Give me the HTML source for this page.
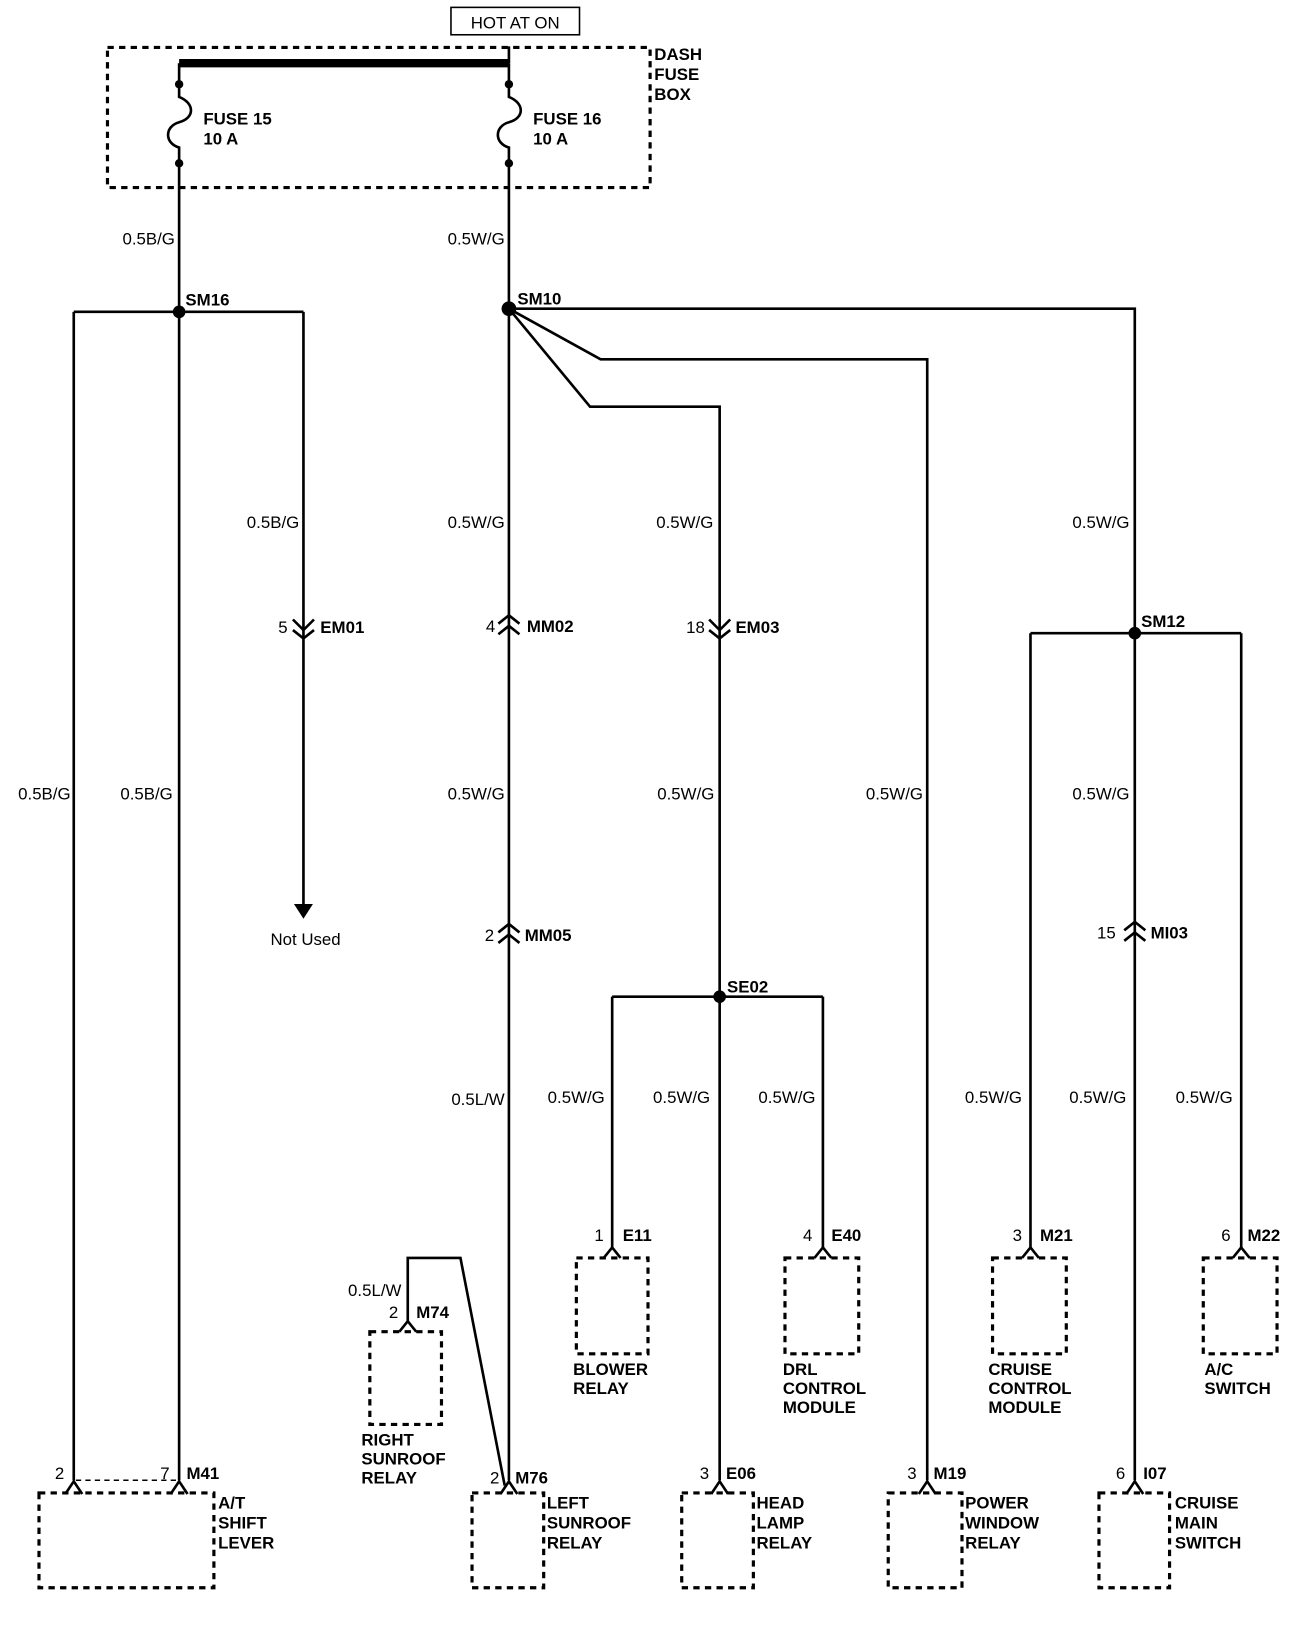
<!DOCTYPE html>
<html><head><meta charset="utf-8"><style>
html,body{margin:0;padding:0;background:#fff;}
svg{display:block;}
text{font-family:"Liberation Sans",Arial,sans-serif;fill:#000;}
.b{font-weight:bold;font-size:16px;}
.w{font-size:16px;}
</style></head><body>
<svg width="1296" height="1652" viewBox="0 0 1230 1568" preserveAspectRatio="none" xmlns="http://www.w3.org/2000/svg">
<g fill="none" stroke="#000" stroke-width="2.5">
<!-- HOT AT ON -->
<rect x="428" y="7" width="122" height="26" stroke-width="1.5"/>
<!-- fuse box -->
<rect x="102" y="45" width="515" height="133" stroke-dasharray="6,5" stroke-width="3"/>
<line x1="170" y1="60" x2="483" y2="60" stroke-width="8"/>
<line x1="483" y1="44" x2="483" y2="60"/>
<!-- fuse 15 -->
<path d="M170 60 V92 C185 98 185 112 170 116 C156 120 156 136 170 140 V296"/>
<path d="M483 60 V92 C498 98 498 112 483 116 C469 120 469 136 483 140 V294"/>
<path d="M170 296 V1405"/>
<path d="M483 294 V1405"/>
<!-- SM16 -->
<path d="M70 296 H288 M70 296 V1405 M288 296 V860"/>
<!-- SM10 -->
<path d="M483 293 H1077 V1405"/>
<path d="M483 293 L570 341 H880 V1405"/>
<path d="M483 293 L560 386 H683 V1405"/>
<!-- SE02 -->
<path d="M581 946 H781 M581 946 V1185 M781 946 V1185"/>
<!-- SM12 -->
<path d="M978 601 H1178 M978 601 V1185 M1178 601 V1185"/>
<!-- M74 loop -->
<path d="M387 1256 V1194 H437 L479 1410"/>
<!-- connector chevrons -->
<path d="M278 588 L288 598 L298 588 M278 598 L288 606 L298 598" />
<path d="M673 588 L683 598 L693 588 M673 598 L683 606 L693 598" />
<path d="M473 592 L483 584 L493 592 M473 602 L483 594 L493 602" />
<path d="M473 885 L483 877 L493 885 M473 895 L483 887 L493 895" />
<path d="M1067 883 L1077 875 L1087 883 M1067 893 L1077 885 L1087 893" />
<!-- carets at devices -->
<path d="M573 1194 L581 1184 L589 1194 M773 1194 L781 1184 L789 1194 M970 1194 L978 1184 L986 1194 M1170 1194 L1178 1184 L1186 1194"/>
<path d="M379 1264 L387 1254 L395 1264"/>
<path d="M62 1418 L70 1406 L78 1418 M162 1418 L170 1406 L178 1418 M475 1418 L483 1406 L491 1418 M675 1418 L683 1406 L691 1418 M872 1418 L880 1406 L888 1418 M1069 1418 L1077 1406 L1085 1418"/>
<path d="M72 1405 H168" stroke-dasharray="5,4" stroke-width="1.5"/>
</g>
<!-- dots -->
<g fill="#000">
<circle cx="170" cy="80" r="4"/><circle cx="170" cy="155" r="4"/>
<circle cx="483" cy="80" r="4"/><circle cx="483" cy="155" r="4"/>
<circle cx="170" cy="296" r="6"/><circle cx="483" cy="293" r="7"/>
<circle cx="1077" cy="601" r="6"/><circle cx="683" cy="946" r="6"/>
<path d="M279 858 L297 858 L288 872 Z"/>
</g>
<!-- device boxes -->
<g fill="none" stroke="#000" stroke-width="3" stroke-dasharray="6,5">
<rect x="547" y="1194" width="68" height="91"/>
<rect x="745" y="1194" width="70" height="91"/>
<rect x="942" y="1194" width="70" height="91"/>
<rect x="1142" y="1194" width="70" height="91"/>
<rect x="351" y="1264" width="68" height="88"/>
<rect x="37" y="1417" width="166" height="90"/>
<rect x="448" y="1417" width="68" height="90"/>
<rect x="647" y="1417" width="68" height="90"/>
<rect x="843" y="1417" width="70" height="90"/>
<rect x="1043" y="1417" width="67" height="90"/>
</g>
<!-- labels -->
<text x="489" y="27" text-anchor="middle" class="w">HOT AT ON</text>
<g class="b">
<text x="621" y="57">DASH</text><text x="621" y="76">FUSE</text><text x="621" y="95">BOX</text>
<text x="193" y="118">FUSE 15</text><text x="193" y="137">10 A</text>
<text x="506" y="118">FUSE 16</text><text x="506" y="137">10 A</text>
<text x="176" y="290">SM16</text><text x="491" y="289">SM10</text>
<text x="1083" y="595">SM12</text><text x="690" y="942">SE02</text>
<text x="304" y="601">EM01</text><text x="500" y="600">MM02</text><text x="698" y="601">EM03</text>
<text x="498" y="893">MM05</text><text x="1092" y="891">MI03</text>
<text x="591" y="1178">E11</text><text x="789" y="1178">E40</text><text x="987" y="1178">M21</text><text x="1184" y="1178">M22</text>
<text x="395" y="1251">M74</text>
<text x="177" y="1404">M41</text><text x="489" y="1408">M76</text><text x="689" y="1404">E06</text><text x="886" y="1404">M19</text><text x="1085" y="1404">I07</text>
<text x="544" y="1305">BLOWER</text><text x="544" y="1323">RELAY</text>
<text x="743" y="1305">DRL</text><text x="743" y="1323">CONTROL</text><text x="743" y="1341">MODULE</text>
<text x="938" y="1305">CRUISE</text><text x="938" y="1323">CONTROL</text><text x="938" y="1341">MODULE</text>
<text x="1143" y="1305">A/C</text><text x="1143" y="1323">SWITCH</text>
<text x="343" y="1372">RIGHT</text><text x="343" y="1390">SUNROOF</text><text x="343" y="1408">RELAY</text>
<text x="207" y="1432">A/T</text><text x="207" y="1451">SHIFT</text><text x="207" y="1470">LEVER</text>
<text x="519" y="1432">LEFT</text><text x="519" y="1451">SUNROOF</text><text x="519" y="1470">RELAY</text>
<text x="718" y="1432">HEAD</text><text x="718" y="1451">LAMP</text><text x="718" y="1470">RELAY</text>
<text x="916" y="1432">POWER</text><text x="916" y="1451">WINDOW</text><text x="916" y="1470">RELAY</text>
<text x="1115" y="1432">CRUISE</text><text x="1115" y="1451">MAIN</text><text x="1115" y="1470">SWITCH</text>
</g>
<g class="w" text-anchor="end">
<text x="166" y="232">0.5B/G</text><text x="479" y="232">0.5W/G</text>
<text x="284" y="501">0.5B/G</text><text x="479" y="501">0.5W/G</text><text x="677" y="501">0.5W/G</text><text x="1072" y="501">0.5W/G</text>
<text x="67" y="759">0.5B/G</text><text x="164" y="759">0.5B/G</text><text x="479" y="759">0.5W/G</text><text x="678" y="759">0.5W/G</text><text x="876" y="759">0.5W/G</text><text x="1072" y="759">0.5W/G</text>
<text x="479" y="1049">0.5L/W</text><text x="574" y="1047">0.5W/G</text><text x="674" y="1047">0.5W/G</text><text x="774" y="1047">0.5W/G</text><text x="970" y="1047">0.5W/G</text><text x="1069" y="1047">0.5W/G</text><text x="1170" y="1047">0.5W/G</text>
<text x="381" y="1230">0.5L/W</text>
<text x="273" y="601">5</text><text x="470" y="600">4</text><text x="669" y="601">18</text>
<text x="469" y="893">2</text><text x="1059" y="891">15</text>
<text x="573" y="1178">1</text><text x="771" y="1178">4</text><text x="970" y="1178">3</text><text x="1168" y="1178">6</text>
<text x="378" y="1251">2</text>
<text x="61" y="1404">2</text><text x="161" y="1404">7</text><text x="474" y="1408">2</text><text x="673" y="1404">3</text><text x="870" y="1404">3</text><text x="1068" y="1404">6</text>
</g>
<text x="290" y="897" text-anchor="middle" class="w">Not Used</text>
</svg>
</body></html>
